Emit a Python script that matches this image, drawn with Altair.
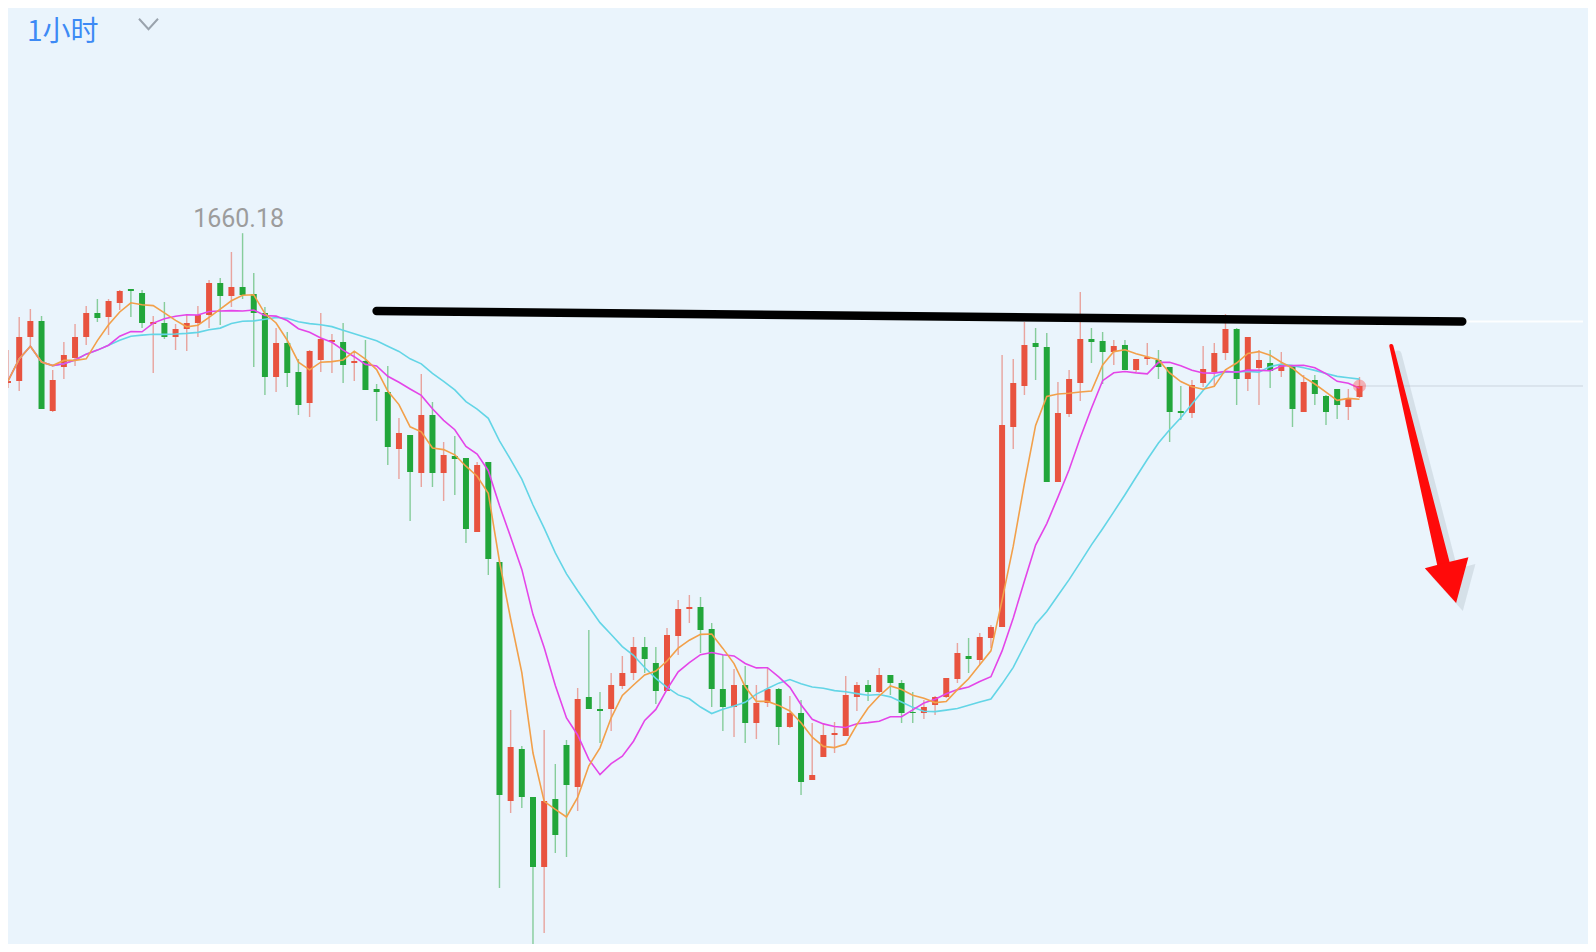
import altair as alt
import pandas as pd

# ---------------- data ----------------
opens = [1645.2, 1645.4, 1649.8, 1651.4, 1642.4, 1646.8, 1647.7, 1649.8, 1652.2, 1651.8,
         1653.2, 1654.6, 1654.2, 1651.1, 1651.2, 1649.8, 1650.6, 1651.2, 1652.0, 1655.2,
         1653.9, 1654.8, 1654.1, 1652.2, 1645.8, 1649.2, 1646.3, 1643.2, 1647.5, 1649.3,
         1649.3, 1647.2, 1647.4, 1644.6, 1644.3, 1638.6, 1640.0, 1636.2, 1642.0, 1636.2,
         1637.9, 1637.7, 1630.3, 1637.3, 1627.3, 1603.4, 1608.6, 1603.8, 1596.8, 1603.6,
         1609.0, 1604.8, 1613.8, 1612.6, 1612.6, 1614.9, 1616.2, 1618.8, 1617.2, 1614.4,
         1619.9, 1622.6, 1622.8, 1620.6, 1614.6, 1612.8, 1615.0, 1611.2, 1613.2, 1614.6,
         1610.8, 1612.2, 1605.5, 1607.8, 1610.0, 1609.9, 1613.8, 1615.0, 1614.3, 1616.0,
         1615.2, 1612.3, 1612.2, 1613.0, 1613.8, 1615.6, 1617.9, 1617.5, 1619.7, 1620.8,
         1640.8, 1644.9, 1649.2, 1648.8, 1635.3, 1642.1, 1645.2, 1649.6, 1649.4, 1648.3,
         1649.0, 1646.5, 1647.6, 1647.5, 1646.8, 1642.4, 1642.2, 1645.2, 1646.3, 1648.2,
         1650.6, 1645.6, 1646.7, 1647.2, 1646.4, 1647.0, 1642.3, 1645.5, 1643.9, 1644.6,
         1642.8, 1643.8]
highs = [1648.5, 1651.8, 1652.6, 1651.9, 1646.5, 1649.3, 1651.1, 1652.9, 1653.6, 1653.6,
         1654.5, 1654.6, 1654.5, 1651.9, 1653.3, 1651.1, 1652.1, 1652.9, 1655.5, 1655.7,
         1658.3, 1660.18, 1656.2, 1652.8, 1650.7, 1650.3, 1647.6, 1648.5, 1652.2, 1650.1,
         1651.2, 1648.3, 1649.5, 1645.1, 1646.9, 1641.7, 1640.0, 1646.1, 1643.3, 1639.3,
         1639.9, 1637.7, 1637.3, 1637.3, 1627.5, 1612.5, 1608.9, 1603.8, 1610.5, 1607.1,
         1609.5, 1614.7, 1620.5, 1614.3, 1616.2, 1617.9, 1619.8, 1619.8, 1618.8, 1620.7,
         1623.5, 1624.0, 1623.8, 1621.2, 1618.0, 1616.6, 1616.9, 1615.0, 1616.7, 1614.7,
         1613.9, 1613.5, 1611.2, 1611.2, 1611.3, 1615.9, 1615.3, 1615.5, 1616.7, 1616.0,
         1615.5, 1614.3, 1613.5, 1613.9, 1615.7, 1619.2, 1619.7, 1620.2, 1621.0, 1648.0,
         1647.6, 1651.3, 1650.7, 1650.2, 1645.3, 1646.5, 1654.3, 1650.7, 1650.3, 1649.5,
         1649.5, 1647.6, 1649.2, 1648.5, 1646.8, 1644.9, 1645.5, 1648.9, 1649.2, 1652.1,
         1650.7, 1649.8, 1648.5, 1648.5, 1648.3, 1647.0, 1646.0, 1646.0, 1644.0, 1644.6,
         1644.6, 1645.8]
lows = [1644.7, 1644.4, 1648.8, 1642.6, 1642.3, 1645.6, 1646.9, 1649.0, 1651.3, 1650.0,
        1652.5, 1651.8, 1650.7, 1646.2, 1649.6, 1648.5, 1648.4, 1649.8, 1650.7, 1651.0,
        1652.8, 1653.6, 1646.8, 1644.0, 1644.3, 1644.8, 1642.0, 1641.8, 1646.3, 1646.2,
        1645.2, 1645.4, 1644.5, 1641.4, 1637.0, 1635.6, 1631.4, 1634.8, 1634.8, 1633.4,
        1634.0, 1629.2, 1630.3, 1626.0, 1594.7, 1602.2, 1602.7, 1588.7, 1590.2, 1598.2,
        1597.8, 1602.4, 1612.6, 1609.2, 1610.4, 1614.6, 1615.5, 1616.2, 1613.1, 1614.4,
        1618.0, 1621.2, 1618.2, 1612.8, 1610.4, 1609.8, 1609.2, 1609.6, 1612.8, 1609.0,
        1610.7, 1604.0, 1605.5, 1607.8, 1608.2, 1609.9, 1612.4, 1613.4, 1614.2, 1614.0,
        1611.2, 1611.2, 1611.6, 1612.0, 1613.7, 1615.2, 1616.2, 1617.0, 1618.7, 1620.8,
        1638.6, 1644.0, 1645.5, 1635.3, 1635.3, 1641.8, 1643.4, 1647.2, 1645.1, 1647.0,
        1646.5, 1646.3, 1647.0, 1645.6, 1639.3, 1641.5, 1641.7, 1644.8, 1644.8, 1647.5,
        1643.0, 1644.4, 1643.0, 1644.7, 1645.8, 1640.8, 1642.3, 1643.0, 1641.0, 1641.6,
        1641.5, 1643.7]
closes = [1645.4, 1649.8, 1651.4, 1642.6, 1645.5, 1648.0, 1649.8, 1652.2, 1651.7, 1653.4,
          1654.4, 1654.4, 1651.2, 1651.3, 1649.8, 1650.6, 1651.2, 1652.0, 1655.2, 1653.9,
          1654.8, 1654.0, 1652.2, 1645.8, 1649.2, 1646.2, 1643.0, 1648.4, 1649.6, 1649.5,
          1647.0, 1647.4, 1644.5, 1644.3, 1638.8, 1640.2, 1636.3, 1642.0, 1636.2, 1638.0,
          1637.6, 1630.6, 1637.0, 1627.6, 1604.0, 1608.8, 1603.8, 1596.8, 1603.4, 1600.0,
          1605.0, 1613.6, 1612.6, 1612.4, 1615.0, 1616.2, 1618.8, 1617.6, 1614.4, 1620.0,
          1622.6, 1622.8, 1620.5, 1614.6, 1612.8, 1615.0, 1611.2, 1613.2, 1614.6, 1610.8,
          1612.2, 1605.3, 1606.0, 1610.0, 1610.2, 1614.0, 1615.0, 1614.3, 1616.0, 1615.2,
          1612.2, 1612.2, 1612.8, 1613.8, 1615.7, 1618.2, 1617.6, 1619.8, 1620.8, 1641.0,
          1645.2, 1649.0, 1648.8, 1635.3, 1642.2, 1645.6, 1649.6, 1649.3, 1648.3, 1648.9,
          1646.5, 1647.6, 1647.8, 1646.8, 1642.3, 1642.2, 1645.0, 1646.6, 1648.2, 1650.6,
          1645.6, 1649.8, 1647.5, 1646.4, 1647.1, 1642.6, 1645.3, 1644.1, 1642.3, 1643.0,
          1643.6, 1644.9]

high_label = ["1660.18"]
period_label = ["1小时"]

# annotation: hand-drawn resistance line and arrow (index, price)
res_line_i = [34.0, 131.2]
res_line_p = [1652.4, 1651.35]
arrow_i = [124.85, 129.65]
arrow_p = [1648.9, 1626.5]
arrow_w = [4.0, 13.0]
arrow_tip_i = [130.65]
arrow_tip_p = [1623.2]

# ---------------- frames ----------------
n = len(opens)
df = pd.DataFrame({"i": list(range(1, n + 1)), "open": opens, "high": highs,
                   "low": lows, "close": closes})
hi_df = pd.DataFrame({"i": [22], "p": [highs[21]], "t": high_label})
res_df = pd.DataFrame({"i": res_line_i, "p": res_line_p})
arr_df = pd.DataFrame({"i": arrow_i, "p": arrow_p, "w": arrow_w})
arr_sh = pd.DataFrame({"i": [v + 0.6 for v in arrow_i], "p": [v - 0.8 for v in arrow_p],
                       "w": [w + 3 for w in arrow_w]})
tip_df = pd.DataFrame({"i": arrow_tip_i, "p": arrow_tip_p})
tip_sh = pd.DataFrame({"i": [v + 0.6 for v in arrow_tip_i], "p": [v - 0.8 for v in arrow_tip_p]})
last_df = pd.DataFrame({"i": [n], "i2": [142.01], "p": [closes[-1]]})
white_df = pd.DataFrame({"i": [n], "i2": [142.01], "p": [res_line_p[-1]]})
title_df = pd.DataFrame({"t": period_label})

RED = "#E8533F"
GREEN = "#22A63A"
BG = "#EAF4FC"

xs = alt.Scale(domain=[1.445, 142.01], nice=False, zero=False)
ys = alt.Scale(domain=[1589.1, 1682.7], nice=False, zero=False)
X = alt.X("i:Q", scale=xs, axis=None)
cond = alt.condition("datum.close >= datum.open", alt.value(RED), alt.value(GREEN))

base = alt.Chart(df)

white_line = alt.Chart(white_df).mark_rule(color="#FFFFFF", strokeWidth=2, opacity=0.9, clip=True).encode(
    x=X, x2="i2:Q", y=alt.Y("p:Q", scale=ys, axis=None))
last_line = alt.Chart(last_df).mark_rule(color="#CBD4DE", strokeWidth=1, clip=True).encode(
    x=X, x2="i2:Q", y=alt.Y("p:Q", scale=ys, axis=None))

wicks = base.mark_rule(strokeWidth=1.4, opacity=0.5, clip=True).encode(
    x=X, y=alt.Y("low:Q", scale=ys, axis=None), y2="high:Q", color=cond)
bodies = base.mark_bar(size=6, clip=True).encode(
    x=X, y=alt.Y("open:Q", scale=ys, axis=None), y2="close:Q", color=cond)


def ma_line(k, col):
    return base.transform_window(
        ma="mean(close)", frame=[-(k - 1), 0], sort=[alt.SortField("i")]
    ).mark_line(color=col, strokeWidth=1.6, clip=True).encode(
        x=X, y=alt.Y("ma:Q", scale=ys, axis=None))


ma20 = ma_line(20, "#63D5E6")
ma10 = ma_line(10, "#E445E8")
ma5 = ma_line(5, "#F2A04A")

glow = alt.Chart(last_df).mark_point(filled=True, size=170, color="#FF4D4D", opacity=0.4, clip=True).encode(
    x=X, y=alt.Y("p:Q", scale=ys, axis=None))

hi_text = alt.Chart(hi_df).mark_text(dy=-6, dx=-4, baseline="alphabetic", align="center", fontSize=25,
                                     font="Roboto", color="#9C9C9C").encode(
    x=X, y=alt.Y("p:Q", scale=ys, axis=None), text="t:N")

res = alt.Chart(res_df).mark_line(color="#000000", strokeWidth=8.5, strokeCap="round", clip=True).encode(
    x=X, y=alt.Y("p:Q", scale=ys, axis=None))

HEAD = "M0,0L-1.4,-1.55L-0.65,-1.75L0.55,-2.05Z"
shaft_sh = alt.Chart(arr_sh).mark_trail(color="#8E99A6", opacity=0.22, clip=True).encode(
    x=X, y=alt.Y("p:Q", scale=ys, axis=None), size=alt.Size("w:Q", scale=None, legend=None))
head_sh = alt.Chart(tip_sh).mark_point(shape=HEAD, size=2100, filled=True, color="#8E99A6",
                                       opacity=0.22, clip=True).encode(
    x=X, y=alt.Y("p:Q", scale=ys, axis=None))
shaft = alt.Chart(arr_df).mark_trail(color="#FF0A0A", clip=True).encode(
    x=X, y=alt.Y("p:Q", scale=ys, axis=None), size=alt.Size("w:Q", scale=None, legend=None))
head = alt.Chart(tip_df).mark_point(shape=HEAD, size=2000, filled=True, color="#FF0A0A",
                                    opacity=1, clip=True).encode(
    x=X, y=alt.Y("p:Q", scale=ys, axis=None))

title = alt.Chart(title_df).mark_text(align="left", baseline="alphabetic", fontSize=28,
                                      font="Noto Sans CJK SC", color="#3D8AF5").encode(
    x=alt.value(19), y=alt.value(33), text="t:N")
chevron = alt.Chart(title_df).mark_point(shape="M-1,-0.55L0,0.55L1,-0.55", size=361, filled=False,
                                         color="#9AA3AD", strokeWidth=2, opacity=1).encode(
    x=alt.value(140.5), y=alt.value(16))

chart = alt.layer(
    white_line, last_line, wicks, bodies, ma20, ma10, ma5, glow, hi_text, res,
    shaft_sh, head_sh, shaft, head, title, chevron
).properties(
    width=1580, height=936, padding=0, background=BG,
    autosize=alt.AutoSizeParams(type="none")
).configure_view(stroke=None)

chart.save("out.html", embed_options={"renderer": "svg", "actions": False})
